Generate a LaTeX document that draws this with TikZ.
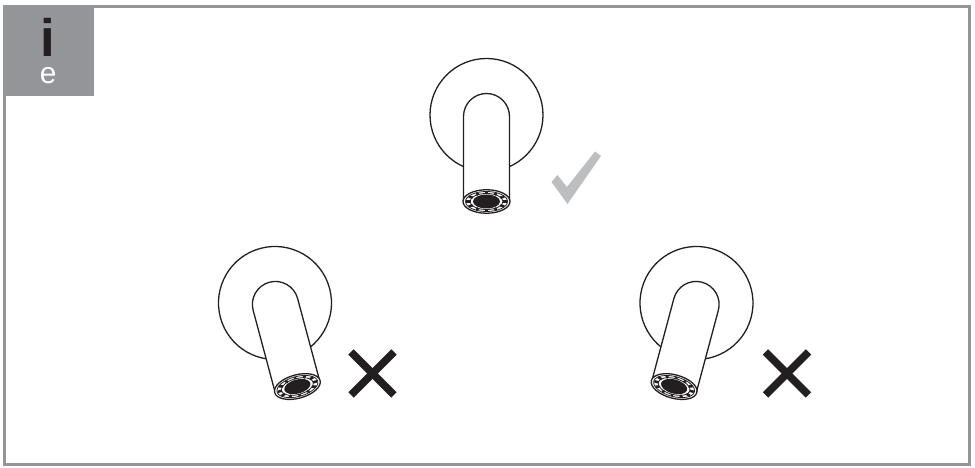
\documentclass[tikz,border=0pt]{standalone}
\usepackage{xcolor}
\usepackage{fontspec}
\setmainfont{Liberation Sans}
\usetikzlibrary{positioning}
\definecolor{framecolor}{HTML}{939598}
\definecolor{checkcolor}{HTML}{BCBEC0}
\definecolor{inkcolor}{HTML}{231F20}

\begin{document}
\begin{tikzpicture}[
  outline/.style={draw=inkcolor, line width=0.26mm},
  hair/.style={draw=inkcolor, line width=0.16mm},
  cross/.style={draw=inkcolor, line width=1.55mm},
  badge/.style={rectangle, fill=framecolor, minimum width=1.826cm, minimum height=1.82cm, anchor=north west, inner sep=0pt},
  faucet/.pic={
    % Plate
    \draw[outline] (0,0) circle (1.13);
    % Spout
    \draw[outline, fill=white] (-0.46,-1.73) -- (-0.46,-0.03) arc (180:0:0.46) -- (0.46,-1.73);
    % Mouth
    \draw[outline, fill=white] (0,-1.73) ellipse (0.47 and 0.235);
    \draw[hair] (0,-1.73) ellipse (0.42 and 0.2);
    \draw[hair] (0,-1.73) ellipse (0.33 and 0.16);
    \foreach \ang in {0,30,...,330}
      \draw[hair, line width=0.5mm] (0,-1.73) ++(\ang:0.32 and 0.155) -- ++(\ang:0.09 and 0.04);
    \fill[inkcolor] (0,-1.73) ellipse (0.27 and 0.14);
  }
]
\useasboundingbox (0,0) rectangle (19.5,9.36);

% Frame
\draw[framecolor, line width=0.6mm] (0.086,0.06) rectangle (19.38,9.23);

% Badge
\node[badge] (tab) at (0.054,9.26) {};
\node[font=\fontsize{30}{30}\selectfont\bfseries, text=inkcolor, inner sep=0pt] (tabi) at (0.966,8.61) {i};
\node[font=\fontsize{17}{17}\selectfont, text=white, inner sep=0pt] (tabe) at (0.966,7.84) {e};

% Faucets
\pic at (9.73,7.06) {faucet};
\pic[rotate=15] at (5.5,3.3) {faucet};
\pic[rotate=-15] at (13.93,3.3) {faucet};

% Check mark
\fill[checkcolor] (11.03,5.72) -- (11.15,5.86) -- (11.34,5.62) -- (11.9,6.33) -- (12.02,6.24) -- (11.35,5.28) -- cycle;

% Crosses
\draw[cross] (7.02,1.46) -- (7.88,2.32);
\draw[cross] (7.02,2.32) -- (7.88,1.46);
\draw[cross] (15.31,1.46) -- (16.17,2.32);
\draw[cross] (15.31,2.32) -- (16.17,1.46);
\end{tikzpicture}
\end{document}
